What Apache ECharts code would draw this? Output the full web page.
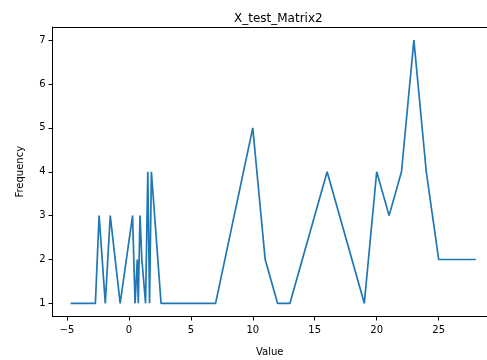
<!DOCTYPE html>
<html>
<head>
<meta charset="utf-8">
<script src="https://cdn.jsdelivr.net/npm/echarts@6/dist/echarts.min.js"></script>
<style>html,body{margin:0;padding:0;background:#fff}#c{width:487px;height:360px}</style>
</head>
<body>
<div id="c"></div>
<script>
var xValues = [-4.7, -2.7, -2.4, -1.9, -1.5, -0.7, 0.3, 0.5, 0.68, 0.76, 0.9, 1.05, 1.2, 1.35, 1.53, 1.67, 1.82, 2.6, 3, 4, 5, 6, 7, 10, 11, 12, 13, 16, 19, 20, 21, 22, 23, 24, 25, 26, 27, 28];
var frequency = [1, 1, 3, 1, 3, 1, 3, 1, 2, 1, 3, 2, 2, 1, 4, 1, 4, 1, 1, 1, 1, 1, 1, 5, 2, 1, 1, 4, 1, 4, 3, 4, 7, 4, 2, 2, 2, 2];
var xTicks = [-5, 0, 5, 10, 15, 20, 25];
var yTicks = [1, 2, 3, 4, 5, 6, 7];
var titleText = 'X_test_Matrix2';
var xName = 'Value';
var yName = 'Frequency';

var data = xValues.map(function (x, i) { return [x, frequency[i]]; });
var font = 'DejaVu Sans';
var chart = echarts.init(document.getElementById('c'), null, {renderer: 'canvas'});
var X_MIN = -6.16, X_MAX = 28.9;
chart.setOption({
  animation: false,
  backgroundColor: '#fff',
  title: {
    text: titleText, left: 229, top: 8,
    textStyle: {fontFamily: font, fontSize: 12, fontWeight: 'normal', color: '#000'}
  },
  grid: {
    left: 52.5, right: 0, top: 27, bottom: 43.5, show: false,
    containLabel: false, outerBoundsMode: 'none'
  },
  xAxis: [{
    type: 'value', min: X_MIN, max: X_MAX,
    name: xName, nameLocation: 'middle', nameGap: 31,
    nameTextStyle: {fontFamily: font, fontSize: 10, color: '#000'},
    axisLine: {show: true, onZero: false, lineStyle: {color: '#000', width: 1}},
    axisTick: {show: true, length: 4, inside: false, customValues: xTicks, lineStyle: {color: '#000'}},
    axisLabel: {customValues: xTicks, margin: 9, fontFamily: font, fontSize: 10, color: '#000',
      formatter: function (v) { return v < 0 ? '\u2212' + Math.abs(v) : String(v); }},
    splitLine: {show: false}
  }, {
    type: 'value', min: X_MIN, max: X_MAX, position: 'top',
    axisLine: {show: true, onZero: false, lineStyle: {color: '#000', width: 1}},
    axisTick: {show: false}, axisLabel: {show: false}, splitLine: {show: false}
  }],
  yAxis: {
    type: 'value', min: 0.7, max: 7.3,
    name: yName, nameLocation: 'middle', nameGap: 27,
    nameTextStyle: {fontFamily: font, fontSize: 10, color: '#000'},
    axisLine: {show: true, onZero: false, lineStyle: {color: '#000', width: 1}},
    axisTick: {show: true, length: 4, inside: false, customValues: yTicks, lineStyle: {color: '#000'}},
    axisLabel: {customValues: yTicks, margin: 7, fontFamily: font, fontSize: 10, color: '#000'},
    splitLine: {show: false}
  },
  series: [{
    type: 'line', data: data, showSymbol: false, symbol: 'none', xAxisIndex: 0,
    lineStyle: {color: '#1f77b4', width: 1.7},
    itemStyle: {color: '#1f77b4'}
  }]
});
</script>
</body>
</html>
